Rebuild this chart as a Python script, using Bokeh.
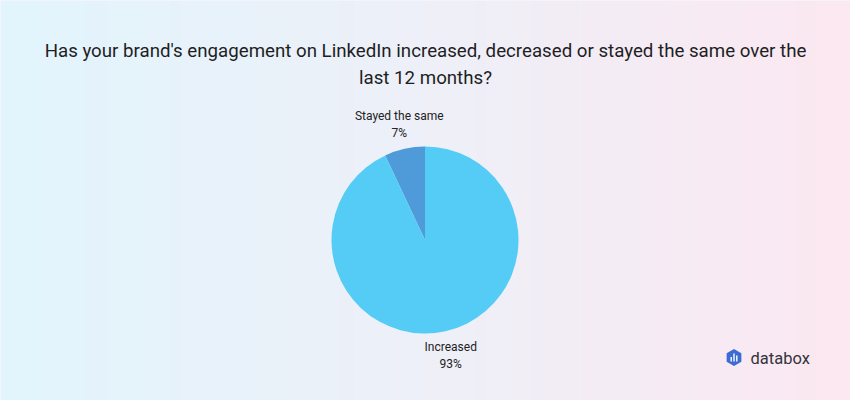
import numpy as np
from bokeh.plotting import figure
from bokeh.models import Range1d
from bokeh.core.properties import value
from bokeh.embed import file_html
from bokeh.resources import INLINE

# ---- data ----
categories = ["Stayed the same", "Increased"]
shares = [7, 93]
colors = ["#4F9BDA", "#55CCF6"]
title_lines = [
    "Has your brand's engagement on LinkedIn increased, decreased or stayed the same over the",
    "last 12 months?",
]

W, H = 850, 400
p = figure(width=W, height=H, output_backend="svg", toolbar_location=None,
           x_range=Range1d(0, W), y_range=Range1d(0, H),
           min_border=0, outline_line_color=None)
p.axis.visible = False
p.grid.visible = False
p.background_fill_color = "#EFF0F8"
p.border_fill_color = "#EFF0F8"

# background gradient (left light blue -> right light pink)
stops = np.array([[226, 245, 253], [238, 240, 248], [252, 232, 241]], dtype=float)
n = 200
t = np.linspace(0, 1, n)
img = np.zeros((1, n), dtype=np.uint32)
view = img.view(dtype=np.uint8).reshape((1, n, 4))
for k in range(3):
    view[0, :, k] = np.interp(t, [0, 0.5, 1], stops[:, k]).astype(np.uint8)
view[0, :, 3] = 255
p.image_rgba(image=[img], x=0, y=0, dw=W, dh=H)

# title
font = value("Roboto")
p.text(x=[W / 2], y=[H - 50], text=[title_lines[0]], text_font=font,
       text_font_size="18.7px", text_color="#1E1E24", text_align="center", text_baseline="middle")
p.text(x=[W / 2], y=[H - 77], text=[title_lines[1]], text_font=font,
       text_font_size="18.7px", text_color="#1E1E24", text_align="center", text_baseline="middle")

# pie
cx, cy, R = 424.5, 160.5, 93.5
fr = np.array(shares, dtype=float) / sum(shares)
start = np.pi / 2 + np.concatenate([[0], np.cumsum(fr)[:-1]]) * 2 * np.pi
end = np.pi / 2 + np.cumsum(fr) * 2 * np.pi
p.wedge(x=cx, y=cy, radius=R, start_angle=start, end_angle=end, direction="anticlock",
        fill_color=colors, line_color=None)

# labels
mid = (start + end) / 2
LR = 118
lx = cx + LR * np.cos(mid)
ly = cy + LR * np.sin(mid)
p.text(x=lx, y=ly + 8.5, text=categories, text_font=font, text_font_size="12px",
       text_color="#222222", text_align="center", text_baseline="middle")
p.text(x=lx, y=ly - 8.5, text=[f"{s}%" for s in shares], text_font=font, text_font_size="12px",
       text_color="#222222", text_align="center", text_baseline="middle")

# databox logo
ix, iy = 733.5, 43
p.scatter(x=[ix], y=[iy], marker="hex", size=17, angle=np.pi / 2,
          fill_color="#3D6BD4", line_color=None)
p.vbar(x=[ix - 2.8, ix, ix + 2.8], bottom=[iy - 4, iy - 4, iy - 4],
       top=[iy + 0.5, iy + 4, iy + 2], width=1.4, fill_color="white", line_color=None)
p.text(x=[750], y=[iy - 1], text=["databox"], text_font=font, text_font_size="16.5px",
       text_font_style="normal", text_color="#33333D", text_align="left", text_baseline="middle")

open("out.html", "w").write(file_html(p, INLINE))
